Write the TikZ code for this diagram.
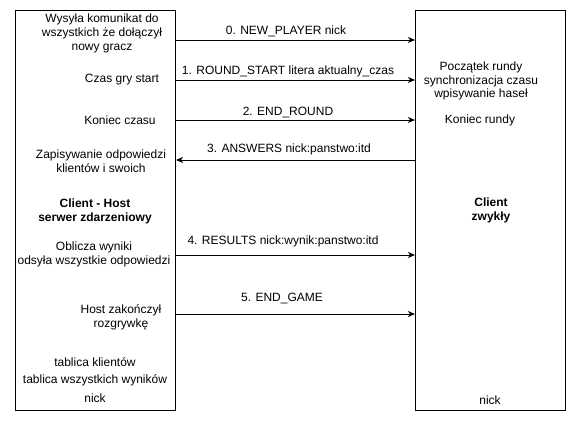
\documentclass[tikz,border=0pt]{standalone}
\usepackage{fontspec}
\setmainfont{Liberation Sans}
\usetikzlibrary{arrows.meta,calc}
\tikzset{>={Stealth[length=7bp,width=6bp,inset=2bp]}}
\tikzstyle{actor}=[rectangle,draw=black,line width=1bp,inner sep=0pt,anchor=north west]
\tikzstyle{note}=[align=center,inner sep=0pt,font=\fontsize{12bp}{13.8bp}\selectfont]
\tikzstyle{msg}=[inner sep=0pt,font=\fontsize{12bp}{13.8bp}\selectfont]
\tikzstyle{flow}=[draw=black,line width=1bp]

\begin{document}
\begin{tikzpicture}[x=1bp,y=-1bp]
	\useasboundingbox (0,0) rectangle (576,421);

	\node[actor, minimum width=160bp, minimum height=400bp] (host) at (15,10) {};
	\node[actor, minimum width=150bp, minimum height=400bp] (client) at (415,10) {};

	% host side
	\node[note] (hsend) at (102,33.5) {Wysyła komunikat do\\wszystkich że dołączył\\nowy gracz};
	\node[note] (hstart) at (122,80) {Czas gry start};
	\node[note] (hend) at (120,120) {Koniec czasu};
	\node[note] (hsave) at (101,161) {Zapisywanie odpowiedzi\\klientów i swoich};
	\node[note, font=\fontsize{12bp}{13.8bp}\selectfont\bfseries] (htitle) at (95,211) {Client - Host\\serwer zdarzeniowy};
	\node[note] (hcalc) at (94,254) {Oblicza wyniki\\odsyła wszystkie odpowiedzi};
	\node[note] (hover) at (121,317) {Host zakończył\\rozgrywkę};
	\node[note] (htab1) at (95,362) {tablica klientów};
	\node[note] (htab2) at (95,380) {tablica wszystkich wyników};
	\node[note] (hnick) at (95,398) {nick};

	% client side
	\node[note] (cstart) at (481,81) {Początek rundy\\synchronizacja czasu\\wpisywanie haseł};
	\node[note] (cend) at (480,120) {Koniec rundy};
	\node[note, font=\fontsize{12bp}{13.8bp}\selectfont\bfseries] (ctitle) at (491,210) {Client\\zwykły};
	\node[note] (cnick) at (490,400) {nick};

	% messages
	\foreach \n/\y/\ly/\lx/\dir/\txt in {
		0/40/31/286/->/0. NEW\_PLAYER nick,
		1/80/71/288/->/1. ROUND\_START litera aktualny\_czas,
		2/120/112/288/->/2. END\_ROUND,
		3/160/149/289/<-/3. ANSWERS nick:panstwo:itd,
		4/255/241/283/->/4. RESULTS nick:wynik:panstwo:itd,
		5/314/298/282/->/5. END\_GAME}
	{
		\coordinate (row\n) at (0,\y);
		\draw[flow,\dir] (host.east |- row\n) -- (client.west |- row\n);
		\node[msg] (msg\n) at (\lx,\ly) {\txt};
	}
\end{tikzpicture}
\end{document}
